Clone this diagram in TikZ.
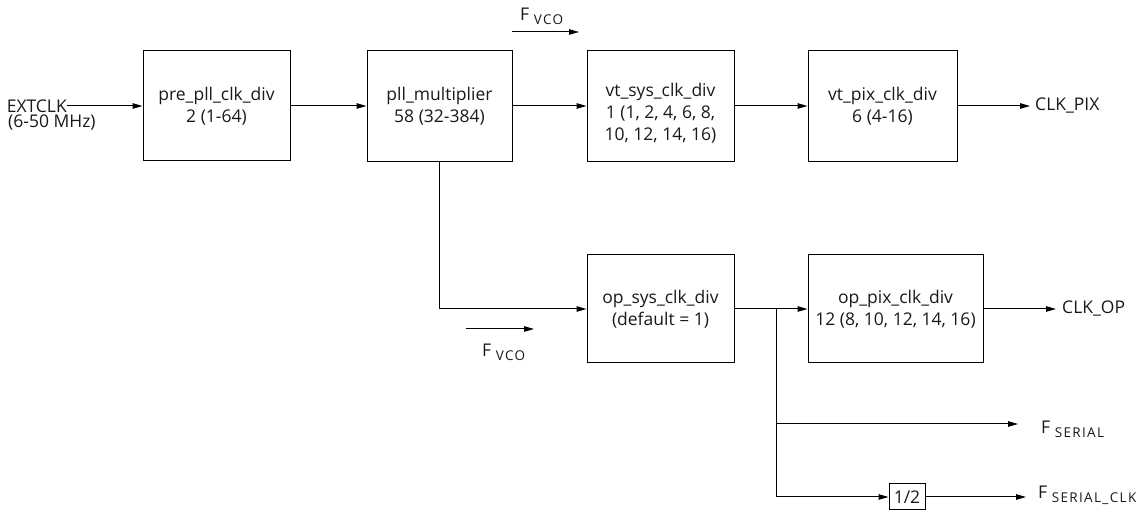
\documentclass[tikz,border=0pt]{standalone}
\usepackage{fontspec}
\setmainfont{Open Sans}
\usetikzlibrary{arrows.meta}
\newcommand\mysub[1]{\raisebox{-4pt}{\fontsize{13.5}{13.5}\selectfont\addfontfeatures{LetterSpace=10}#1}}
\begin{document}
\begin{tikzpicture}[x=1pt,y=-1pt,
  every node/.style={font=\fontsize{17.5}{22}\selectfont, text=black!90},
  blk/.style={draw, line width=1pt, inner sep=0pt, align=center},
  txt/.style={inner sep=0pt, align=center},
  lbl/.style={inner sep=0pt, anchor=base west},
  conn/.style={line width=1pt, -{Triangle[length=10pt,width=5.5pt]}},
  wire/.style={line width=1pt}]
\useasboundingbox (0,0) rectangle (1136,510);
% blocks
\node[blk, minimum width=147pt, minimum height=110pt] (pre) at (216.5,106) {pre\_pll\_clk\_div\\2 (1-64)};
\node[blk, minimum width=145pt, minimum height=111pt] (pll) at (439.5,106) {pll\_multiplier\\58 (32-384)};
\node[blk, minimum width=147pt, minimum height=111pt] (vtsys) at (660.5,106) {};
\node[txt] (vtsystxt) at (660.5,113) {vt\_sys\_clk\_div\\1 (1, 2, 4, 6, 8,\\10, 12, 14, 16)};
\node[blk, minimum width=149pt, minimum height=111pt] (vtpix) at (882.5,106) {vt\_pix\_clk\_div\\6 (4-16)};
\node[blk, minimum width=147pt, minimum height=108pt] (opsys) at (660.5,309) {op\_sys\_clk\_div\\(default = 1)};
\node[blk, minimum width=175pt, minimum height=108pt] (oppix) at (895.5,309) {op\_pix\_clk\_div\\12 (8, 10, 12, 14, 16)};
\node[blk, minimum width=36pt, minimum height=26pt] (half) at (907,497) {1/2};
% labels
\node[inner sep=0pt, anchor=east] (extclk) at (67,106) {EXTCLK};
\node[inner sep=0pt, anchor=base west] (mhz) at (8,128) {(6-50 MHz)};
\node[inner sep=0pt, anchor=west] (clkpix) at (1035,106) {CLK\_PIX};
\node[inner sep=0pt, anchor=west] (clkop) at (1062,309) {CLK\_OP};
\node[lbl] (fvcotop) at (520,21) {F \mysub{VCO}};
\node[lbl] (fvcobot) at (482,357) {F \mysub{VCO}};
\node[lbl] (fserial) at (1041,434) {F \mysub{SERIAL}};
\node[lbl] (fserialclk) at (1038,499) {F \mysub{SERIAL\_CLK}};
% coordinates
\coordinate (vtaS) at (512,32);
\coordinate (vtaE) at (579,32);
\coordinate (vbaS) at (466,329);
\coordinate (vbaE) at (534,329);
\coordinate (br) at (776,309);
\coordinate (brmid) at (776,424);
\coordinate (brbot) at (776,497);
\coordinate (fsE) at (1018,424);
\coordinate (fscE) at (1026,497);
\coordinate (pixE) at (1030,106);
\coordinate (opE) at (1056,309);
% connectors
\draw[conn] (extclk.east) -- (pre.west);
\draw[conn] (pre.east) -- (pll.west);
\draw[conn] (pll.east) -- (vtsys.west);
\draw[conn] (vtsys.east) -- (vtpix.west);
\draw[conn] (vtpix.east) -- (pixE);
\draw[conn] (pll.south) |- (opsys.west);
\draw[conn] (opsys.east) -- (oppix.west);
\draw[conn] (oppix.east) -- (opE);
\draw[wire] (br) -- (brbot);
\draw[conn] (brmid) -- (fsE);
\draw[conn] (brbot) -- (half.west);
\draw[conn] (half.east) -- (fscE);
\draw[conn] (vtaS) -- (vtaE);
\draw[conn] (vbaS) -- (vbaE);
\end{tikzpicture}
\end{document}
